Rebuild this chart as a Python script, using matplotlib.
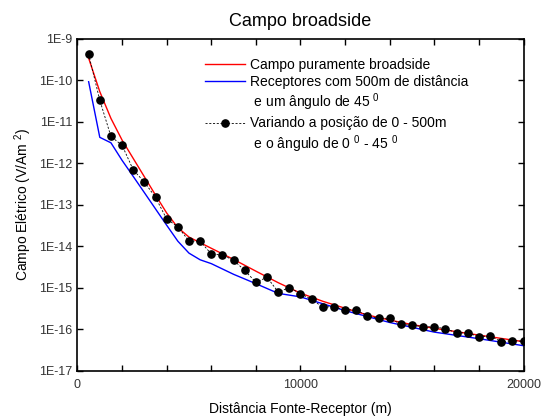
import matplotlib
matplotlib.use("Agg")
import matplotlib.pyplot as plt
from matplotlib.lines import Line2D
from matplotlib.ticker import FixedLocator, FuncFormatter, NullLocator
import numpy as np

plt.rcParams['font.family'] = ['Liberation Sans', 'DejaVu Sans']
plt.rcParams['mathtext.fontset'] = 'custom'
plt.rcParams['mathtext.rm'] = 'Liberation Sans'
plt.rcParams['mathtext.default'] = 'regular'

# broadside field (red)
red_x = [500, 1000, 1500, 2000, 2500, 3000, 3500, 4000, 4500, 5000, 6000, 7000,
         8000, 9000, 10000, 11000, 12000, 13000, 14000, 15000, 16000, 17000,
         18000, 19000, 20000]
red_e = [3.4e-10, 5.3e-11, 1.2e-11, 3.6e-12, 1.3e-12, 4.7e-13, 1.7e-13, 6.3e-14,
         2.8e-14, 1.66e-14, 8.9e-15, 4.8e-15, 2.5e-15, 1.32e-15, 7.4e-16, 4.7e-16,
         3.2e-16, 2.2e-16, 1.66e-16, 1.29e-16, 1.05e-16, 8.7e-17, 7.2e-17, 6.0e-17,
         5.0e-17]

# receivers 500 m away, 45 deg (blue)
blue_x = [500, 1000, 1500, 2000, 2500, 3000, 3500, 4000, 4500, 5000, 5500, 6000,
          7000, 8000, 9000, 10000, 12000, 14000, 16000, 18000, 20000]
blue_e = [9.2e-11, 4.2e-12, 3.1e-12, 1.17e-12, 4.8e-13, 1.95e-13, 7.9e-14, 3.2e-14,
          1.32e-14, 6.8e-15, 4.7e-15, 3.8e-15, 2.1e-15, 1.25e-15, 7.3e-16, 6.0e-16,
          2.8e-16, 1.45e-16, 8.5e-17, 5.9e-17, 4.0e-17]

# varying position 0-500 m and angle 0-45 deg (dots)
pts_x = [500, 1000, 1500, 2000, 2500, 3000, 3500, 4000, 4500, 5000, 5500, 6000,
         6500, 7000, 7500, 8000, 8500, 9000, 9500, 10000, 10500, 11000, 11500,
         12000, 12500, 13000, 13500, 14000, 14500, 15000, 15500, 16000, 16500,
         17000, 17500, 18000, 18500, 19000, 19500, 20000]
pts_e = [4.2e-10, 3.3e-11, 4.4e-12, 2.7e-12, 6.9e-13, 3.5e-13, 1.5e-13, 4.5e-14,
         2.95e-14, 1.33e-14, 1.31e-14, 6.5e-15, 6.1e-15, 4.6e-15, 2.6e-15, 1.35e-15,
         1.78e-15, 7.9e-16, 1.0e-15, 7.2e-16, 5.2e-16, 3.4e-16, 3.5e-16, 2.9e-16,
         2.9e-16, 2.1e-16, 1.83e-16, 1.83e-16, 1.31e-16, 1.24e-16, 1.15e-16, 1.13e-16,
         1.03e-16, 8.2e-17, 8.1e-17, 6.6e-17, 6.9e-17, 5.0e-17, 5.3e-17, 5.1e-17]

fig = plt.figure(figsize=(5.48, 4.18), dpi=100)
ax = fig.add_axes([0.1414, 0.1132, 0.8139, 0.7942])

ax.plot(red_x, red_e, color='red', lw=1.0)
ax.plot(blue_x, blue_e, color='blue', lw=1.0)
ax.plot(pts_x, pts_e, color='black', lw=0.6, ls=(0, (2.5, 2)),
        marker='o', ms=5.2, mfc='black', mec='black')

ax.set_yscale('log')
ax.set_xlim(0, 20000)
ax.set_ylim(1e-17, 1e-9)

ax.xaxis.set_major_locator(FixedLocator([0, 10000, 20000]))
ax.xaxis.set_minor_locator(FixedLocator([2000, 4000, 6000, 8000, 12000, 14000,
                                         16000, 18000]))
ax.yaxis.set_major_locator(FixedLocator([10.0 ** k for k in range(-17, -8)]))
ax.yaxis.set_minor_locator(NullLocator())
ax.yaxis.set_major_formatter(FuncFormatter(lambda v, p: "1E%d" % round(np.log10(v))))

ax.tick_params(which='both', direction='in', top=True, right=True,
               length=4.5, width=1.0, labelsize=9, colors='black',
               labelcolor='#333333')
ax.tick_params(axis='x', pad=6)
for s in ax.spines.values():
    s.set_linewidth(1.2)

ax.set_title("Campo broadside", fontsize=13, pad=9)
ax.set_xlabel("Distância Fonte-Receptor (m)", fontsize=10, labelpad=8)
ax.set_ylabel("Campo Elétrico (V/Am $^2$)", fontsize=10, labelpad=4)

blank = Line2D([], [], color='none')
handles = [
    Line2D([], [], color='red', lw=1.0),
    Line2D([], [], color='blue', lw=1.0),
    blank,
    Line2D([], [], color='black', lw=0.6, ls=(0, (2.5, 2)), marker='o', ms=5.2),
    blank,
]
labels = [
    "Campo puramente broadside",
    "Receptores com 500m de distância",
    " e um ângulo de 45 $^{0}$",
    "Variando a posição de 0 - 500m",
    " e o ângulo de 0 $^{0}$ - 45 $^{0}$",
]
ax.legend(handles, labels, loc='upper left', bbox_to_anchor=(0.374, 0.862),
          bbox_transform=fig.transFigure, frameon=False, fontsize=10,
          handlelength=2.9, handletextpad=0.35, labelspacing=0.22,
          borderpad=0, borderaxespad=0)

plt.savefig("out.png", dpi=100)
plt.close()
